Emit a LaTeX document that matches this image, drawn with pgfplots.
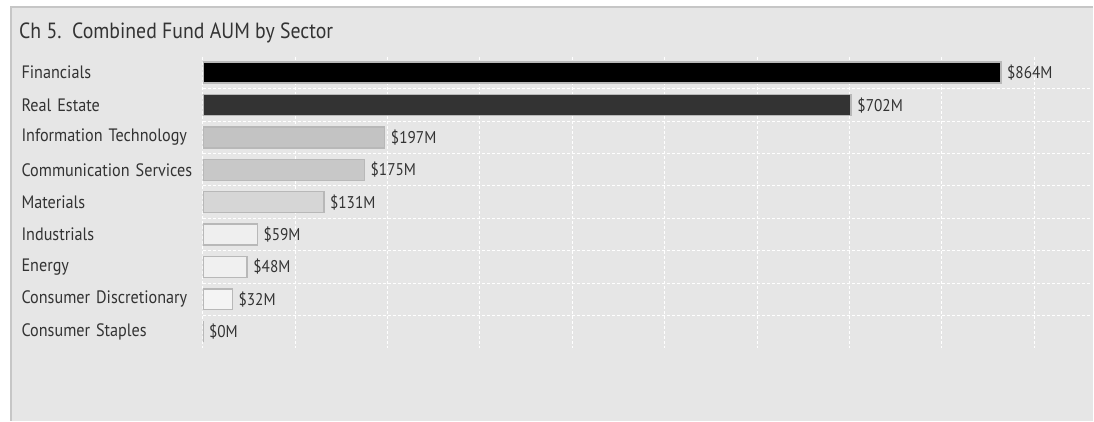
\documentclass[border=0pt]{standalone}
\usepackage{pgfplots}
\pgfplotsset{compat=1.18}
\usepackage{fontspec}
\setmainfont{PT Sans}[FakeStretch=0.9]

\definecolor{bg}{HTML}{E6E6E6}
\definecolor{frame}{HTML}{C6C6C6}
\definecolor{txt}{HTML}{333333}
\definecolor{edge}{HTML}{B8B8B8}

\begin{document}
\begin{tikzpicture}
% panel
\fill[white] (0pt,0pt) rectangle (1094pt,421pt);
\fill[bg] (11pt,0pt) rectangle (1094pt,414pt);
\draw[frame, line width=2.5pt] (11pt,0pt) -- (11pt,414pt) -- (1094pt,414pt);
\node[anchor=base west, inner sep=0pt, text=txt, font=\fontsize{22}{26}\selectfont]
  at (19pt,382pt) {Ch 5.\ \ Combined Fund AUM by Sector};

\begin{axis}[
    at={(203pt,72.8pt)}, anchor=south west,
    scale only axis,
    width=887.8pt, height=291.6pt,
    xbar, bar width=21pt, bar shift=0pt,
    xmin=0, xmax=960,
    ymin=-0.5, ymax=8.5, y dir=reverse,
    axis line style={draw=none},
    tick style={draw=none},
    xtick={0,100,...,900}, xticklabels={},
    xmajorgrids=true,
    major grid style={white, line width=1pt, dash pattern=on 3pt off 2pt},
    ytick={0,...,8},
    yticklabels={Financials, Real Estate, Information Technology,
      Communication Services, Materials, Industrials, Energy,
      Consumer Discretionary, Consumer Staples},
    yticklabel style={anchor=east, text width=177pt, align=left,
      inner sep=0pt, text=txt, font=\fontsize{18}{21}\selectfont},
    extra y ticks={0.5,1.5,...,7.5},
    extra y tick labels={},
    extra y tick style={grid=major},
    point meta=x,
    /pgf/number format/assume math mode=true,
    nodes near coords={\$\pgfmathprintnumber{\pgfplotspointmeta}M},
    every node near coord/.append style={anchor=west, inner sep=0pt,
      xshift=5.5pt, text=txt, font=\fontsize{17}{20}\selectfont},
    every axis plot/.append style={draw=edge, line width=1.5pt},
]
\addplot[fill=black] coordinates {(864,0)};
\addplot[fill={rgb,255:red,51;green,51;blue,51}] coordinates {(702,1)};
\addplot[fill={rgb,255:red,195;green,195;blue,195}] coordinates {(197,2)};
\addplot[fill={rgb,255:red,200;green,200;blue,200}] coordinates {(175,3)};
\addplot[fill={rgb,255:red,214;green,214;blue,214}] coordinates {(131,4)};
\addplot[fill={rgb,255:red,239;green,239;blue,239}] coordinates {(59,5)};
\addplot[fill={rgb,255:red,240;green,240;blue,240}] coordinates {(48,6)};
\addplot[fill={rgb,255:red,244;green,244;blue,244}] coordinates {(32,7)};
\addplot[fill={rgb,255:red,244;green,244;blue,244}] coordinates {(0,8)};
\end{axis}
\end{tikzpicture}
\end{document}
